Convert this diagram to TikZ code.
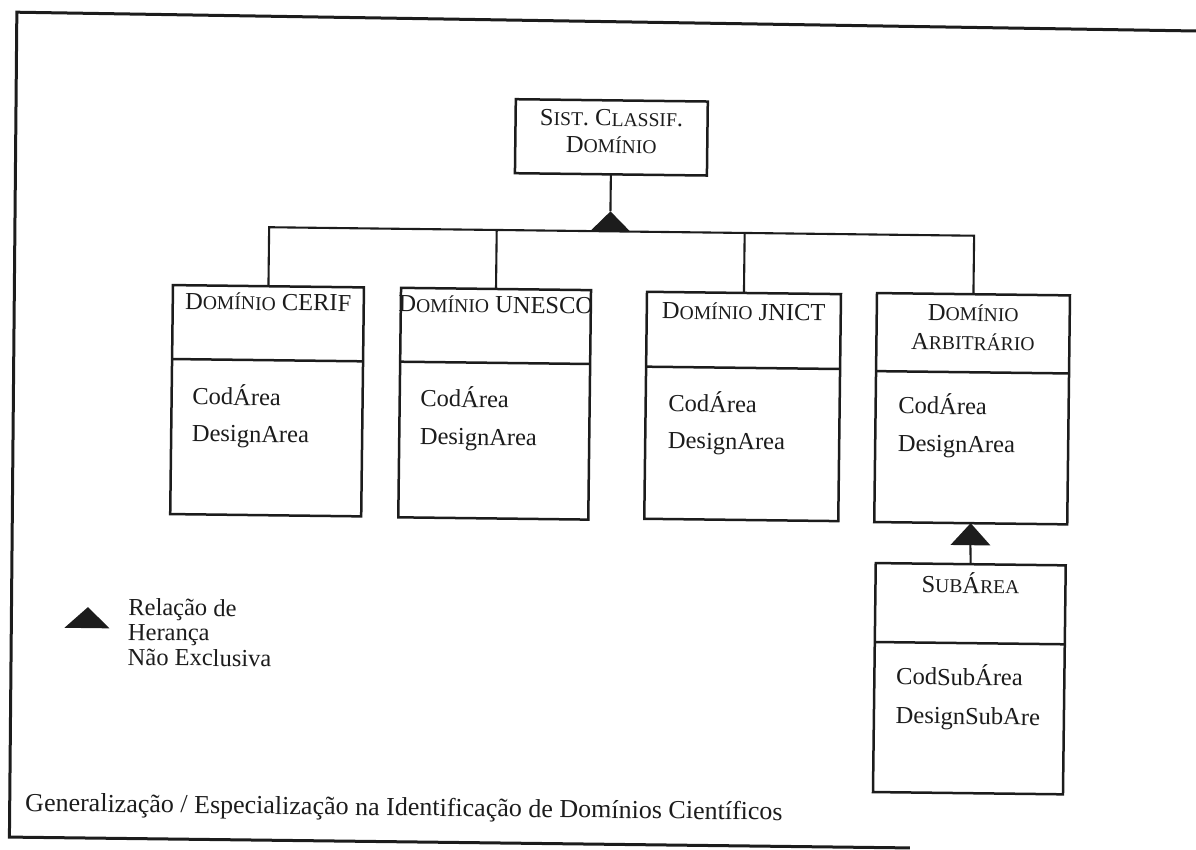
\documentclass[tikz,border=0pt]{standalone}
\usepackage{fontspec}
\setmainfont{Liberation Serif}
\usetikzlibrary{calc}
\newcommand\smc[1]{{\fontsize{9.8pt}{12pt}\selectfont #1}}
\definecolor{ink}{HTML}{1C1C1C}
\begin{document}
\begin{tikzpicture}[x=0.5pt,y=-0.5pt,
  frameline/.style={draw=ink,line width=1.5pt},
  ln/.style={draw=ink,line width=1.25pt},
  cn/.style={draw=ink,line width=1.05pt},
  umlbox/.style={ln,rectangle,anchor=north west,inner sep=0pt,outer sep=0pt},
  ttl/.style={font=\fontsize{12.25pt}{14pt}\selectfont,text=ink,inner sep=0pt,anchor=base},
  attr/.style={font=\fontsize{12.25pt}{14pt}\selectfont,text=ink,inner sep=0pt,anchor=base west},
  captxt/.style={font=\fontsize{13pt}{15pt}\selectfont,text=ink,inner sep=0pt,anchor=base west},
  tri/.style={fill=ink,draw=none}]
\useasboundingbox (0,0) rectangle (1196,850);
\begin{scope}[rotate=-0.69, transform shape]
% frame
\coordinate (fTR) at (1198,16.6);
\coordinate (fTL) at (17,12);
\coordinate (fBL) at (19.5,837);
\coordinate (fBR) at (920,837);
\draw[frameline] (fTR) -- (fTL) -- (fBL) -- (fBR);

% boxes
\node[umlbox, minimum width=96pt, minimum height=37pt] (sist) at (517,93) {};
\node[umlbox, minimum width=95.5pt, minimum height=114.5pt] (cerif) at (176.4,283) {};
\node[umlbox, minimum width=95pt, minimum height=114.75pt] (unesco) at (404.5,283) {};
\node[umlbox, minimum width=97pt, minimum height=113.5pt] (jnict) at (650.5,284) {};
\node[umlbox, minimum width=96.5pt, minimum height=114.5pt] (arb) at (880.5,282.5) {};
\node[umlbox, minimum width=95pt, minimum height=114.5pt] (sub) at (882.5,552.5) {};

% dividers
\draw[ln] ($(cerif.north west)!0.323!(cerif.south west)$) -- ($(cerif.north east)!0.323!(cerif.south east)$);
\draw[ln] ($(unesco.north west)!0.322!(unesco.south west)$) -- ($(unesco.north east)!0.322!(unesco.south east)$);
\draw[ln] ($(jnict.north west)!0.330!(jnict.south west)$) -- ($(jnict.north east)!0.330!(jnict.south east)$);
\draw[ln] ($(arb.north west)!0.341!(arb.south west)$) -- ($(arb.north east)!0.341!(arb.south east)$);
\draw[ln] ($(sub.north west)!0.345!(sub.south west)$) -- ($(sub.north east)!0.345!(sub.south east)$);

% inheritance connectors
\coordinate (t1) at (613,204);
\coordinate (bL) at (271.9,224);
\coordinate (bR) at (977,224);
\coordinate (bU) at (499.5,224);
\coordinate (bJ) at (747.5,224);
\draw[cn] (sist.south) -- (t1);
\fill[tri] (613,204) -- (633,224) -- (593,224) -- cycle;
\draw[cn] (cerif.north) -- (bL) -- (bR) -- (arb.north);
\draw[cn] (unesco.north) -- (bU);
\draw[cn] (jnict.north) -- (bJ);

\coordinate (t2b) at (977,533.5);
\fill[tri] (arb.south) -- (997,533.5) -- (957,533.5) -- cycle;
\draw[cn] (t2b) -- (sub.north);

% titles
\node[ttl] (sistA) at (613,118.7) {S\smc{IST}. C\smc{LASSIF}.};
\node[ttl] (sistB) at (613,145.7) {D\smc{OMÍNIO}};
\node[ttl] (cerifT) at (271.9,307) {D\smc{OMÍNIO} CERIF};
\node[ttl] (unescoT) at (499.5,307) {D\smc{OMÍNIO} UNESCO};
\node[ttl] (jnictT) at (747.5,311) {D\smc{OMÍNIO} JNICT};
\node[ttl] (arbA) at (977,309.4) {D\smc{OMÍNIO}};
\node[ttl] (arbB) at (977,338.4) {A\smc{RBITRÁRIO}};
\node[ttl] (subT) at (977.5,581.4) {S\smc{UB}Á\smc{REA}};

% attributes
\node[attr] (c1) at (196.8,402.2) {CodÁrea};
\node[attr] (c2) at (196.8,439.2) {DesignArea};
\node[attr] (u1) at (424.8,401.5) {CodÁrea};
\node[attr] (u2) at (424.8,439.4) {DesignArea};
\node[attr] (j1) at (672.9,403.5) {CodÁrea};
\node[attr] (j2) at (672.9,440.5) {DesignArea};
\node[attr] (a1) at (902.9,402.7) {CodÁrea};
\node[attr] (a2) at (902.9,440.7) {DesignArea};
\node[attr] (s1) at (904,673.7) {CodSubÁrea};
\node[attr] (s2) at (904,712.7) {DesignSubAre};

% legend
\fill[tri] (95.3,606) -- (117,627) -- (72,627) -- cycle;
\node[attr] (lg1) at (135.3,613.5) {Relação de};
\node[attr] (lg2) at (135.3,638.5) {Herança};
\node[attr] (lg3) at (135.3,663.5) {Não Exclusiva};

% caption
\node[captxt] (caption) at (34.6,810.7) {Generalização / Especialização na Identificação de Domínios Científicos};
\end{scope}
\end{tikzpicture}
\end{document}
